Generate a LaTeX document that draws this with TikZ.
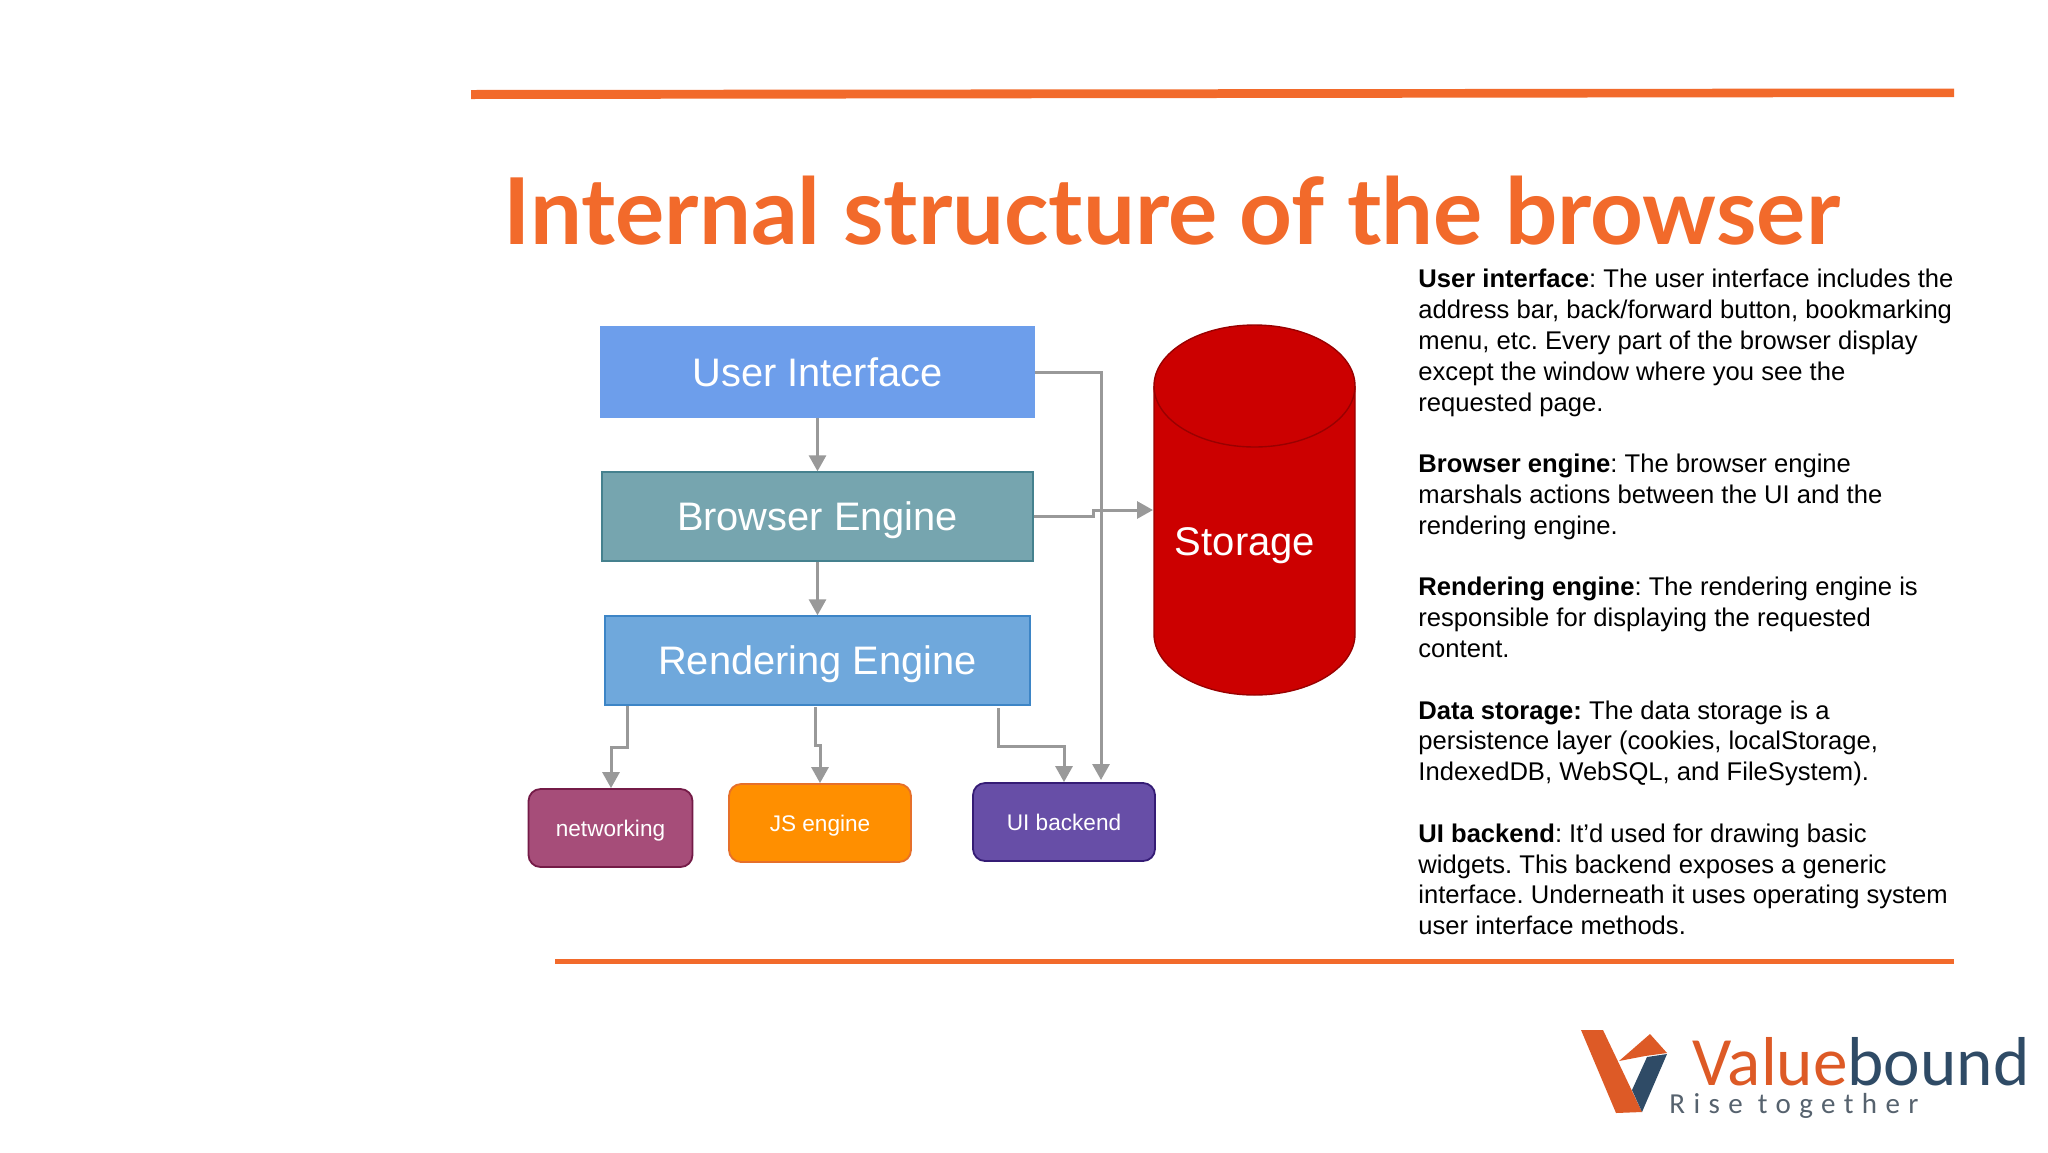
\documentclass[tikz,border=0pt]{standalone}
\usepackage{fontspec}
\setmainfont{Liberation Sans}
\newfontfamily\titlefont{Lato}
\newfontfamily\logofont{Carlito}
\newfontfamily\logospaced[LetterSpace=29]{Carlito}
\usetikzlibrary{arrows.meta}
\definecolor{accent}{HTML}{F26A2B}
\definecolor{linkgrey}{HTML}{999999}
\definecolor{logoorange}{HTML}{DD5A26}
\definecolor{logoblue}{HTML}{2F4B66}
\definecolor{logogrey}{HTML}{56626E}
\definecolor{uifill}{HTML}{6D9EEB}
\definecolor{befill}{HTML}{76A5AF}
\definecolor{bedraw}{HTML}{45818E}
\definecolor{refill}{HTML}{6FA8DC}
\definecolor{redraw}{HTML}{3D85C6}
\definecolor{netfill}{HTML}{A64D79}
\definecolor{netdraw}{HTML}{741B47}
\definecolor{jsfill}{HTML}{FF8F00}
\definecolor{jsdraw}{HTML}{E6702A}
\definecolor{ubfill}{HTML}{674EA7}
\definecolor{ubdraw}{HTML}{351C75}
\definecolor{storefill}{HTML}{CC0000}
\definecolor{storedraw}{HTML}{990000}
\tikzset{
  x=0.5pt,y=-0.5pt,
  mainbox/.style={rectangle,line width=0.7pt,text=white,inner sep=0pt,text depth=0pt,font=\fontsize{19.9pt}{23pt}\selectfont},
  smallbox/.style={rectangle,rounded corners=6pt,line width=0.9pt,text=white,inner sep=0pt,text depth=0pt,minimum width=91pt,minimum height=39pt,font=\fontsize{11.3pt}{14pt}\selectfont},
  link/.style={draw=linkgrey,line width=1.5pt},
  tiplink/.style={link,-{Triangle[length=8pt,width=8.5pt]}},
}
\begin{document}
\begin{tikzpicture}
\useasboundingbox (0,0) rectangle (2048,1152);
\fill[white] (0,0) rectangle (2048,1152);
% rules
\fill[accent] (471,90) -- (1954,88.5) -- (1954,97) -- (471,99) -- cycle;
\fill[accent] (555,958.5) rectangle (1954,963.5);
% title
\node[anchor=base west,inner sep=0pt,text=accent,font=\titlefont\bfseries\fontsize{46.1pt}{50pt}\selectfont] (title) at (503,244) {Internal structure of the browser};
% main boxes
\node[mainbox,draw=uifill,fill=uifill,minimum width=216.5pt,minimum height=45pt] (ui) at (817.5,372) {User Interface};
\node[mainbox,draw=bedraw,fill=befill,minimum width=215.5pt,minimum height=44.5pt] (be) at (817.5,516.5) {Browser Engine};
\node[mainbox,draw=redraw,fill=refill,minimum width=212.5pt,minimum height=44.5pt] (re) at (817.5,660.5) {Rendering Engine};
% small boxes
\node[smallbox,draw=netdraw,fill=netfill,minimum width=82pt] (net) at (610.5,828) {networking};
\node[smallbox,draw=jsdraw,fill=jsfill] (js) at (820,823) {JS engine};
\node[smallbox,draw=ubdraw,fill=ubfill] (ub) at (1064,822) {UI backend};
% storage
\node[minimum width=100.5pt,minimum height=185pt,inner sep=0pt] (storage) at (1254.5,510) {};
\path[fill=storefill,draw=storedraw,line width=0.7pt]
  (1154,386) arc[start angle=180,end angle=0,x radius=100.5,y radius=-61]
  -- (1355,634) arc[start angle=0,end angle=-180,x radius=100.5,y radius=-61] -- cycle;
\draw[storedraw,line width=0.7pt] (1154,386) arc[start angle=180,end angle=360,x radius=100.5,y radius=-61];
\node[text=white,inner sep=0pt,font=\fontsize{20pt}{24pt}\selectfont] (storagelabel) at (1245,546) {Storage};
% named bend points
\coordinate (storein) at (1153,510);
\coordinate (ubend) at (1101,780);
% connectors
\draw[tiplink] (ui.south) -- (be.north);
\draw[tiplink] (be.south) -- (re.north);
\draw[tiplink] (ui.east) -| (ubend);
\draw[tiplink] (be.east) -- ++(60,0) |- (storein);
\draw[tiplink] (re.south -| 627,0) -- (627,747) -- (611,747) -- (net.north -| 611,0);
\draw[tiplink] (815,707) -- (815,745) -- (820,745) -- (js.north);
\draw[tiplink] (998,708) -- (998,746) -- (1064,746) -- (ub.north);
% description
\node[anchor=north west,inner sep=0pt,align=left,font=\fontsize{12.8pt}{15.4pt}\selectfont\frenchspacing] (desc) at (1418,269) {%
\textbf{User interface}: The user interface includes the\\
address bar, back/forward button, bookmarking\\
menu, etc. Every part of the browser display\\
except the window where you see the\\
requested page.\\[15.4pt]
\textbf{Browser engine}: The browser engine\\
marshals actions between the UI and the\\
rendering engine.\\[15.4pt]
\textbf{Rendering engine}: The rendering engine is\\
responsible for displaying the requested\\
content.\\[15.4pt]
\textbf{Data storage:} The data storage is a\\
persistence layer (cookies, localStorage,\\
IndexedDB, WebSQL, and FileSystem).\\[15.4pt]
\textbf{UI backend}: It'd used for drawing basic\\
widgets. This backend exposes a generic\\
interface. Underneath it uses operating system\\
user interface methods.};
% logo
\fill[logoorange] (1581,1030) -- (1603,1030) -- (1642,1112) -- (1616,1113) -- cycle;
\fill[logoorange] (1619,1061) -- (1650,1034) -- (1667,1053) -- (1645,1056) -- cycle;
\fill[logoblue] (1647,1057) -- (1667,1054) -- (1642,1112) -- (1632,1090) -- cycle;
\node[anchor=base west,inner sep=0pt,font=\logofont\fontsize{34.6pt}{36pt}\selectfont] (logoname) at (1692,1085) {\textcolor{logoorange}{Value}\textcolor{logoblue}{bound}};
\node[anchor=base west,inner sep=0pt,text=logogrey,font=\logospaced\fontsize{14.5pt}{15pt}\selectfont] (logotag) at (1669,1113) {Rise together};
\end{tikzpicture}
\end{document}
